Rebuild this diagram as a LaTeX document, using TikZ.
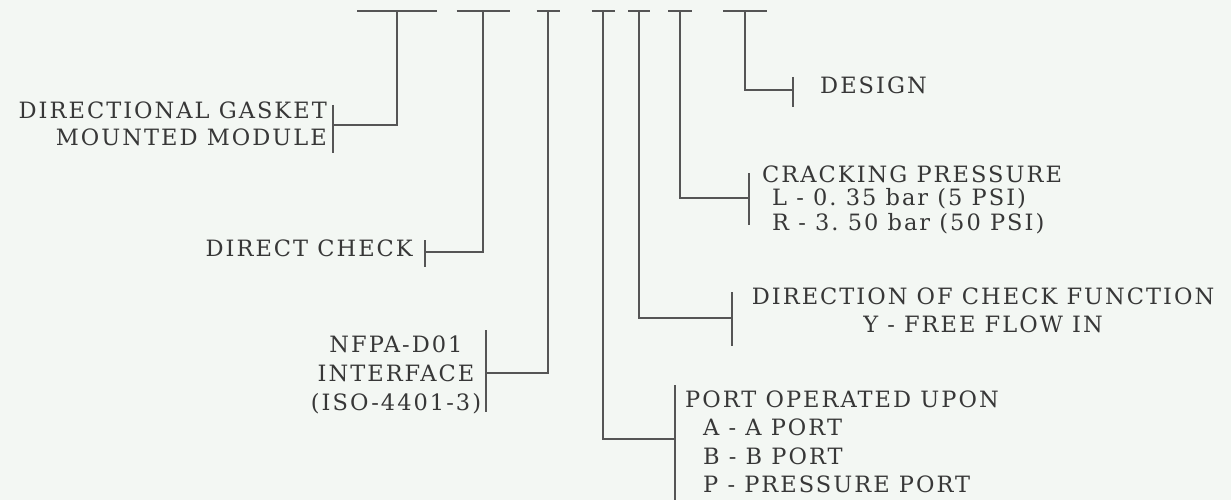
\documentclass[tikz,border=0pt]{standalone}
\usepackage{fontspec}
\setmainfont{DejaVu Serif}[LetterSpace=9]
\usetikzlibrary{calc}
\definecolor{paper}{RGB}{243,247,243}
\definecolor{ink}{RGB}{55,55,55}
\definecolor{wire}{RGB}{85,85,85}
\frenchspacing
\begin{document}
\begin{tikzpicture}[x=1pt,y=-1pt,
  lab/.style={inner sep=0pt, text=ink, font=\fontsize{22.5}{27}\selectfont},
  wirestyle/.style={draw=wire, line width=1.3pt}]
\fill[paper] (0,0) rectangle (1231,500);
\useasboundingbox (0,0) rectangle (1231,500);
% top bars
\foreach \n/\x/\w in {1/397/40, 2/483/26.5, 3/548/11.5, 4/603/11.5, 5/639/11, 6/680/12, 7/745/22}{
  \coordinate (b\n) at (\x,11);
  \draw[wirestyle] ($(b\n)+(-\w,0)$) -- ($(b\n)+(\w,0)$);
}
% tick coordinates
\coordinate (t1) at (333,125);
\coordinate (t2) at (425,252);
\coordinate (t3) at (486,373);
\coordinate (t4) at (675,439);
\coordinate (t5) at (732,318);
\coordinate (t6) at (749,198);
\coordinate (t7) at (793,90);
\foreach \t/\up/\dn in {t1/20/28, t2/12/15, t3/43/39, t4/54/61, t5/26/28, t6/25/27, t7/13/17}{
  \draw[wirestyle] ($(\t)+(0,-\up)$) -- ($(\t)+(0,\dn)$);
}
\foreach \n in {1,...,7}{
  \draw[wirestyle] (b\n) |- (t\n);
}
% labels
\node[lab, anchor=base east] (dgmm) at (327,119)
  {\begin{tabular}[t]{@{}r@{}}DIRECTIONAL GASKET\\MOUNTED MODULE\end{tabular}};
\node[lab, anchor=base east] (dc) at (413,256) {DIRECT CHECK};
\node[lab, anchor=base] (nfpa) at (396,352)
  {\begin{tabular}[t]{@{}c@{}}NFPA-D01\\[2pt]INTERFACE\\[2pt](ISO-4401-3)\end{tabular}};
\node[lab, anchor=base west] (port) at (685,407)
  {\begin{tabular}[t]{@{}l@{}}PORT OPERATED UPON\\[1pt]
   \hspace{18pt}A - A PORT\\[2pt]
   \hspace{18pt}B - B PORT\\[1pt]
   \hspace{18pt}P - PRESSURE PORT\end{tabular}};
\node[lab, anchor=base] (dir) at (983,304)
  {\begin{tabular}[t]{@{}c@{}}DIRECTION OF CHECK FUNCTION\\[1pt]Y - FREE FLOW IN\end{tabular}};
\node[lab, anchor=base west] (crack) at (762,182)
  {\begin{tabular}[t]{@{}l@{}}CRACKING PRESSURE\\[-4pt]
   \hspace{10pt}L - 0. 35 bar (5 PSI)\\[-2pt]
   \hspace{10pt}R - 3. 50 bar (50 PSI)\end{tabular}};
\node[lab, anchor=base west] (design) at (820,94) {DESIGN};
\end{tikzpicture}
\end{document}
